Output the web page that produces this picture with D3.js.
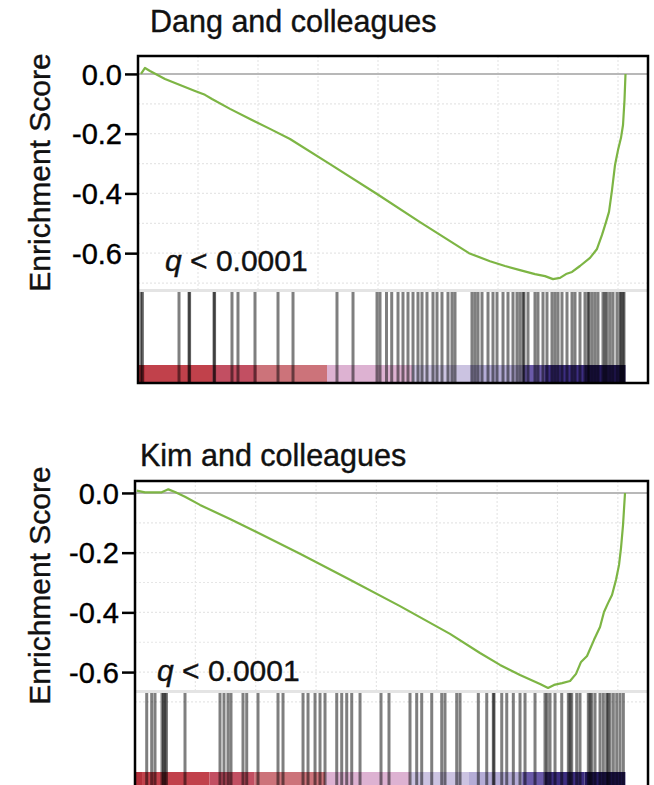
<!DOCTYPE html>
<html>
<head>
<meta charset="utf-8">
<script src="https://cdn.jsdelivr.net/npm/d3@7"></script>
<style>
  html, body { margin: 0; padding: 0; background: #fff; }
  svg { display: block; font-family: "Liberation Sans", Arial, Helvetica, sans-serif; }
</style>
</head>
<body>
<script>
// ---- data -------------------------------------------------------------
// Ranked list length and axis extent (gene ranks)
const rankCount = 16250;
const rankAxisMax = 17000;
const rankGrid = [2000, 4000, 6000, 8000, 10000, 12000, 14000, 16000];

const yTicks = [0, -0.2, -0.4, -0.6];
const yTickLabels = ["0.0", "-0.2", "-0.4", "-0.6"];
const yGrid = [-0.1, -0.2, -0.3, -0.4, -0.5, -0.6, -0.7];

const panelTitles = ["Dang and colleagues", "Kim and colleagues"];
const qLabels = ["0.0001", "0.0001"];

// Running enrichment score, Dang gene set
const dangRank = [100, 233, 400, 900, 1400, 1900, 2233, 2467, 3067, 3733, 4400, 5067,
  6400, 7967, 9400, 11033, 11733, 12233, 12733, 13233, 13567, 13833, 14067, 14267,
  14467, 14733, 15067, 15300, 15467, 15600, 15700, 15800, 15900, 16000, 16100, 16167,
  16217, 16250];
const dangES = [0, 0.020, 0.010, -0.017, -0.037, -0.057, -0.070, -0.084, -0.117, -0.151,
  -0.184, -0.218, -0.302, -0.402, -0.496, -0.600, -0.627, -0.643, -0.657, -0.670, -0.677,
  -0.687, -0.683, -0.670, -0.663, -0.643, -0.616, -0.586, -0.539, -0.496, -0.462, -0.389,
  -0.305, -0.255, -0.214, -0.171, -0.087, 0];

// Positions of Dang gene-set members in the ranked list
const dangHits = [100, 150, 1367, 1700, 1720, 2533, 2553, 3133, 3333, 3900, 4667, 5167,
  6633, 7167, 7967, 8067, 8283, 8457, 8667, 8833, 9000, 9167, 9333, 9467, 9633, 9833,
  9967, 10133, 10333, 10467, 10567, 11133, 11233, 11333, 11467, 11667, 11833, 11967,
  12167, 12333, 12500, 12633, 12733, 12833, 12867, 13000, 13233, 13333, 13500, 13633,
  13800, 13900, 14000, 14133, 14300, 14467, 14567, 14733, 14900, 15000, 15033, 15133,
  15233, 15333, 15500, 15567, 15633, 15733, 15833, 15967, 16067, 16100, 16167, 16200];

// Running enrichment score, Kim gene set
const kimRank = [56, 331, 885, 1104, 1326, 1657, 2154, 2651, 3148, 4143, 5468, 7125,
  8782, 10439, 11433, 12096, 12759, 13422, 13688, 13886, 14152, 14417, 14615, 14781,
  14980, 15211, 15410, 15542, 15675, 15807, 15940, 16040, 16106, 16173, 16238];
const kimES = [0.008, 0.002, 0.002, 0.012, 0.003, -0.013, -0.040, -0.064, -0.087,
  -0.137, -0.204, -0.291, -0.379, -0.472, -0.536, -0.576, -0.610, -0.640, -0.653,
  -0.643, -0.637, -0.630, -0.606, -0.566, -0.546, -0.492, -0.449, -0.399, -0.369,
  -0.342, -0.291, -0.241, -0.184, -0.107, 0];

// Positions of Kim gene-set members in the ranked list
const kimHits = [388, 553, 663, 895, 944, 994, 1044, 1657, 2817, 2949, 3082, 3181, 3579,
  3702, 4076, 4739, 4905, 5568, 5734, 5966, 6131, 6297, 6685, 6850, 7016, 7182, 7457,
  8152, 8417, 9113, 9335, 9501, 9833, 10164, 10273, 10661, 10771, 11377, 11656, 11874,
  11898, 12153, 12319, 12537, 12759, 12925, 13256, 13587, 13654, 13753, 13919, 14141,
  14360, 14416, 14472, 14638, 14747, 15022, 15079, 15135, 15244, 15410, 15520, 15632,
  15675, 15741, 15851, 15964, 16073, 16183];

// Ranked-list metric colour bands (upper rank bound of each band)
const bandEnds = [233, 2467, 3967, 6300, 9133, 11067, 12833, 13567, 14900, 16250];
const bandColors = ["#b3303b", "#c1414b", "#c24f62", "#cc737a", "#ddb2d2",
  "#cbc3e1", "#b4acd6", "#6a5aa8", "#3c2d80", "#24195c"];

// ---- drawing ----------------------------------------------------------
const W = 654, H = 785;
const svg = d3.select("body").append("svg")
  .attr("width", W).attr("height", H);

const panels = [
  { title: panelTitles[0], q: qLabels[0], rank: dangRank, es: dangES, hits: dangHits,
    left: 138, right: 648, top: 56, esBottom: 289, barTop: 292, colorTop: 365, bottom: 383,
    yMax: 0.06, yMin: -0.72, titleX: 150, titleY: 32, qX: 165, qY: 271 },
  { title: panelTitles[1], q: qLabels[1], rank: kimRank, es: kimES, hits: kimHits,
    left: 135, right: 648, top: 481, esBottom: 690, barTop: 693, colorTop: 772, bottom: 800,
    yMax: 0.04, yMin: -0.66, titleX: 140, titleY: 466, qX: 157, qY: 681 }
];

panels.forEach(drawPanel);

function drawPanel(p) {
  const g = svg.append("g");
  const x = d3.scaleLinear().domain([0, rankAxisMax]).range([p.left, p.right]);
  const y = d3.scaleLinear().domain([p.yMax, p.yMin]).range([p.top, p.esBottom]);

  // faint dotted grid in the score area
  g.append("g").selectAll("line").data(rankGrid).join("line")
    .attr("x1", d => x(d)).attr("x2", d => x(d))
    .attr("y1", p.top).attr("y2", p.esBottom)
    .attr("stroke", "#e6e6e6").attr("stroke-width", 1.2)
    .attr("stroke-dasharray", "2,2");
  g.append("g").selectAll("line").data(yGrid).join("line")
    .attr("x1", p.left).attr("x2", p.right)
    .attr("y1", d => y(d)).attr("y2", d => y(d))
    .attr("stroke", "#e6e6e6").attr("stroke-width", 1.2)
    .attr("stroke-dasharray", "2,2");

  // zero line
  g.append("line")
    .attr("x1", p.left).attr("x2", p.right)
    .attr("y1", y(0)).attr("y2", y(0))
    .attr("stroke", "#b8b8b8").attr("stroke-width", 2);

  // separator between score area and hit barcode
  g.append("line")
    .attr("x1", p.left).attr("x2", p.right)
    .attr("y1", (p.esBottom + p.barTop) / 2).attr("y2", (p.esBottom + p.barTop) / 2)
    .attr("stroke", "#e4e4e4").attr("stroke-width", 3);

  // ranked-metric colour bar
  const bands = bandEnds.map((end, i) => ({ start: i === 0 ? 0 : bandEnds[i - 1], end, color: bandColors[i] }));
  g.append("g").selectAll("rect").data(bands).join("rect")
    .attr("x", d => x(d.start)).attr("width", d => x(d.end) - x(d.start))
    .attr("y", p.colorTop).attr("height", p.bottom - p.colorTop)
    .attr("fill", d => d.color);

  // gene-set member hits
  g.append("g").selectAll("line").data(p.hits).join("line")
    .attr("x1", d => x(d)).attr("x2", d => x(d))
    .attr("y1", p.barTop).attr("y2", p.bottom)
    .attr("stroke", "#000").attr("stroke-opacity", 0.5).attr("stroke-width", 3);

  // running enrichment score
  const pts = p.rank.map((r, i) => [r, p.es[i]]);
  g.append("path").datum(pts)
    .attr("fill", "none").attr("stroke", "#7db544").attr("stroke-width", 2.2)
    .attr("stroke-linejoin", "round")
    .attr("d", d3.line().x(d => x(d[0])).y(d => y(d[1])));

  // y axis
  const axis = g.append("g").attr("transform", `translate(${p.left},0)`)
    .call(d3.axisLeft(y).tickValues(yTicks)
      .tickFormat((d, i) => yTickLabels[i]).tickSize(13).tickPadding(3));
  axis.select(".domain").remove();
  axis.selectAll(".tick line").attr("stroke", "#000").attr("stroke-width", 2.5);
  axis.selectAll(".tick text").attr("fill", "#000")
    .attr("stroke", "#000").attr("stroke-width", 0.4)
    .style("font-size", "29px").attr("dy", "0.35em");

  // frame
  g.append("rect")
    .attr("x", p.left).attr("y", p.top)
    .attr("width", p.right - p.left).attr("height", p.bottom - p.top)
    .attr("fill", "none").attr("stroke", "#000").attr("stroke-width", 2.5);

  // title
  g.append("text").attr("x", p.titleX).attr("y", p.titleY)
    .attr("fill", "#111").attr("stroke", "#111").attr("stroke-width", 0.4)
    .style("font-size", "30.5px").text(p.title);

  // q-value annotation
  const q = g.append("text").attr("x", p.qX).attr("y", p.qY)
    .attr("fill", "#111").attr("stroke", "#111").attr("stroke-width", 0.4)
    .style("font-size", "30px");
  q.append("tspan").style("font-style", "italic").text("q");
  q.append("tspan").text(" < " + p.q);

  // y label
  g.append("text")
    .attr("transform", `translate(50,${(p.top + p.esBottom) / 2}) rotate(-90)`)
    .attr("text-anchor", "middle")
    .attr("fill", "#111").attr("stroke", "#111").attr("stroke-width", 0.4)
    .style("font-size", "30px").text("Enrichment Score");
}
</script>
</body>
</html>
